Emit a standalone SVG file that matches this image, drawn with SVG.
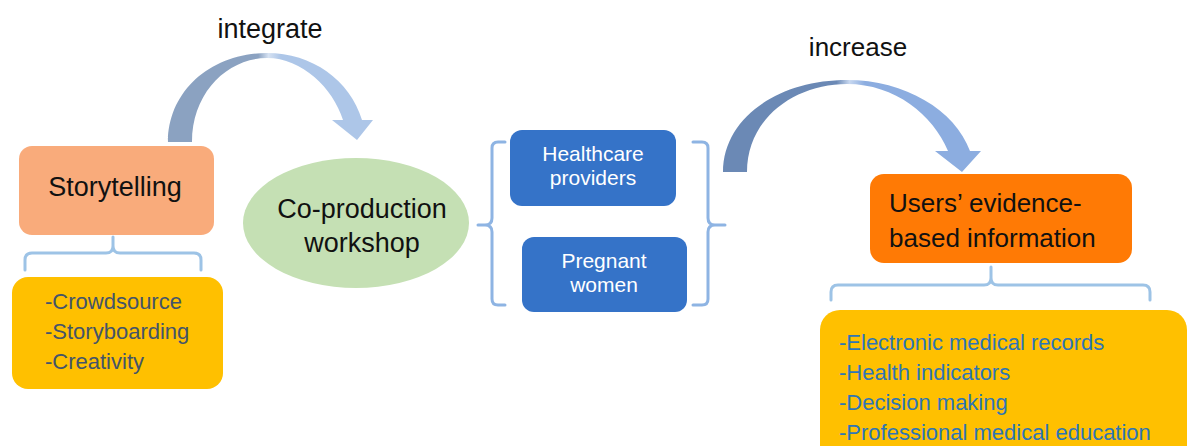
<svg xmlns="http://www.w3.org/2000/svg" width="1192" height="446" viewBox="0 0 1192 446">
<defs>
<linearGradient id="g1" x1="0" y1="0" x2="1" y2="0">
<stop offset="0" stop-color="#8BA2C1"/><stop offset="0.44" stop-color="#8BA2C1"/><stop offset="0.49" stop-color="#D6E2F2"/><stop offset="0.55" stop-color="#ADC6E8"/><stop offset="1" stop-color="#ADC6E8"/>
</linearGradient>
<linearGradient id="g2" x1="0" y1="0" x2="1" y2="0">
<stop offset="0" stop-color="#6B89B5"/><stop offset="0.44" stop-color="#6B89B5"/><stop offset="0.49" stop-color="#C8D8F0"/><stop offset="0.55" stop-color="#8CADE0"/><stop offset="1" stop-color="#8CADE0"/>
</linearGradient>
</defs>
<style>
text{font-family:"Liberation Sans",Arial,sans-serif}
.lbl{font-size:27px;fill:#111;text-anchor:middle}
.wt{font-size:21px;fill:#fff;text-anchor:middle}
.li{font-size:22px;fill:#44546A}
.lr{font-size:22px;fill:#2E75B6}
.br{fill:none;stroke:#9DC3E6;stroke-width:3;stroke-linecap:round;stroke-linejoin:round}
.br2{fill:none;stroke:#8EB4E3;stroke-width:3;stroke-linecap:round;stroke-linejoin:round}
</style>
<rect width="1192" height="446" fill="#fff"/>
<g id="connectors">
<path id="arrow-integrate" d="M168,142 C168,92 210,53 267,53 C312,53 350,80 362,120 L373,120 L357,140 L332,120 L343,120 C333,88 302,58 267,58 C228,58 192,92 192,142 Z" fill="url(#g1)"/>
<path id="arrow-increase" d="M723,172 C723,118 778,80 847,80 C905,80 955,110 970,151 L981,151 L962,172 L935,151 L948,151 C933,115 895,84 847,84 C795,84 747,118 747,172 Z" fill="url(#g2)"/>
<path class="br" d="M25,270 L25,260 Q25,253 32,253 L106,253 Q113,253 113,246 L113,237 M113,246 Q113,253 120,253 L194,253 Q201,253 201,260 L201,270"/>
<path class="br2" d="M505,142 L498,142 Q492,142 492,148 L492,218 Q492,225 485,225 L478,225 M485,225 Q492,225 492,232 L492,299 Q492,305 498,305 L505,305"/>
<path class="br2" d="M693,142 L702,142 Q708,142 708,148 L708,218 Q708,225 715,225 L725,225 M715,225 Q708,225 708,232 L708,299 Q708,305 702,305 L693,305"/>
<path class="br" d="M831,300 L831,292 Q831,285 838,285 L984,285 Q991,285 991,278 L991,267 M991,278 Q991,285 998,285 L1143,285 Q1150,285 1150,292 L1150,300"/>
<text class="lbl" x="270" y="38">integrate</text>
<text class="lbl" x="858" y="56" style="font-size:26px">increase</text>
</g>
<g id="storytelling">
<rect x="19" y="146" width="195" height="89" rx="13" fill="#F9AB7B"/>
<text class="lbl" x="115" y="196">Storytelling</text>
</g>
<g id="storytelling-list">
<rect x="12" y="277" width="211" height="112" rx="16" fill="#FFC000"/>
<text class="li" x="45" y="309">-Crowdsource</text>
<text class="li" x="45" y="339">-Storyboarding</text>
<text class="li" x="45" y="369">-Creativity</text>
</g>
<g id="workshop">
<ellipse cx="356" cy="223" rx="113" ry="65" fill="#C5E0B4"/>
<text class="lbl" x="362" y="218">Co-production</text>
<text class="lbl" x="362" y="252">workshop</text>
</g>
<g id="healthcare-providers">
<rect x="510" y="130" width="166" height="76" rx="12" fill="#3573C8"/>
<text class="wt" x="593" y="161">Healthcare</text>
<text class="wt" x="593" y="185">providers</text>
</g>
<g id="pregnant-women">
<rect x="522" y="237" width="165" height="75" rx="12" fill="#3573C8"/>
<text class="wt" x="604" y="268">Pregnant</text>
<text class="wt" x="604" y="292">women</text>
</g>
<g id="users-info">
<rect x="870" y="174" width="262" height="89" rx="14" fill="#FF7A05"/>
<text class="lbl" x="889" y="212" style="text-anchor:start;font-size:26px">Users’ evidence-</text>
<text class="lbl" x="889" y="247" style="text-anchor:start;font-size:26px">based information</text>
</g>
<g id="users-list">
<rect x="820" y="310" width="367" height="170" rx="20" fill="#FFC000"/>
<text class="lr" x="839" y="350">-Electronic medical records</text>
<text class="lr" x="839" y="380">-Health indicators</text>
<text class="lr" x="839" y="410">-Decision making</text>
<text class="lr" x="839" y="440">-Professional medical education</text>
</g>
</svg>
